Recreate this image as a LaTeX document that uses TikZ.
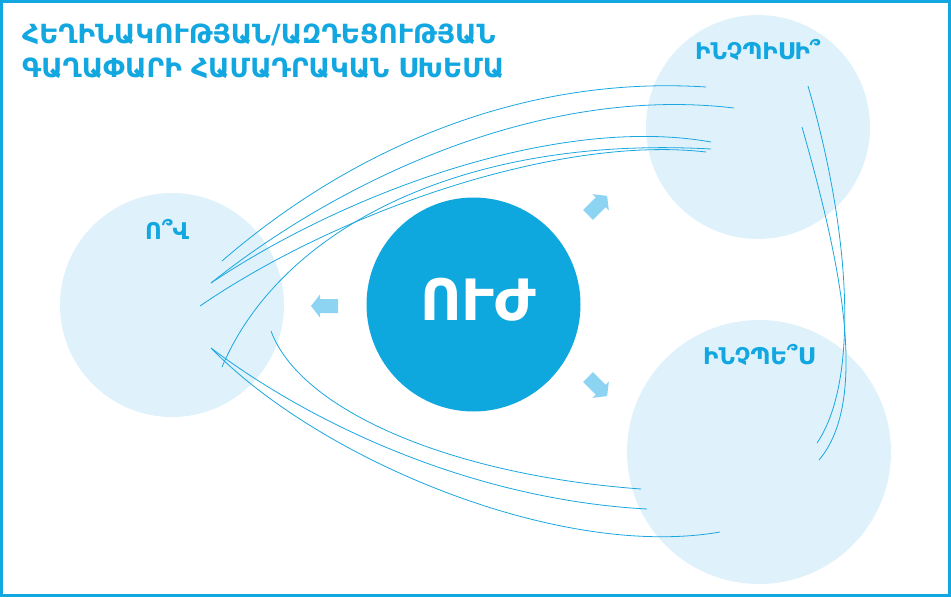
\documentclass[tikz,border=0pt]{standalone}
\usepackage{fontspec}
\setmainfont{DejaVu Sans}
\definecolor{frameblue}{HTML}{12A7E0}
\definecolor{lineblue}{HTML}{1AA6DF}
\definecolor{lightfill}{HTML}{DFF2FB}
\definecolor{corefill}{HTML}{0FA8DE}
\definecolor{arrowfill}{HTML}{8CD4F2}
\tikzset{
  softcircle/.style={circle, fill=lightfill, inner sep=0pt},
  link/.style={draw=lineblue, line width=0.8pt},
  titletext/.style={text=frameblue, anchor=base west, inner sep=0pt, font=\bfseries\fontsize{26.4}{30}\selectfont},
  labeltext/.style={text=frameblue, anchor=base west, inner sep=0pt, font=\bfseries\fontsize{23}{26}\selectfont},
  fatarrow/.pic={\fill[arrowfill] (0,-7) -- (18,-7) -- (18,-11.5) -- (27,0) -- (18,11.5) -- (18,7) -- (0,7) -- cycle;}
}
\begin{document}
\begin{tikzpicture}[x=1pt,y=-1pt]
\useasboundingbox (0,0) rectangle (951,597);
% background circles
\node[softcircle, minimum size=224pt] (who) at (172,305) {};
\node[softcircle, minimum size=224pt] (what) at (758,127) {};
\node[softcircle, minimum size=264pt] (how) at (759,452) {};
% endpoints
\coordinate (a1) at (222,261); \coordinate (a2) at (706,87);
\coordinate (b1) at (211,283); \coordinate (b2) at (734,108);
\coordinate (c2) at (711,142);
\coordinate (d1) at (200,306); \coordinate (d2) at (706,152);
\coordinate (e1) at (222,367); \coordinate (e2) at (711,149);
\coordinate (f1) at (271,331); \coordinate (f2) at (641,489);
\coordinate (g1) at (211,348); \coordinate (g2) at (647,509);
\coordinate (h2) at (720,532);
\coordinate (i1) at (808,86); \coordinate (i2) at (817,443);
\coordinate (j1) at (802,127); \coordinate (j2) at (819,460);
% curves
\draw[link] (a1) .. controls (350,150) and (520,75) .. (a2);
\draw[link] (b1) .. controls (340,180) and (540,85) .. (b2);
\draw[link] (b1) .. controls (350,190) and (560,115) .. (c2);
\draw[link] (d1) .. controls (340,210) and (560,135) .. (d2);
\draw[link] (e1) .. controls (280,230) and (460,135) .. (e2);
\draw[link] (f1) .. controls (300,410) and (450,475) .. (f2);
\draw[link] (g1) .. controls (320,430) and (480,500) .. (g2);
\draw[link] (g1) .. controls (320,460) and (560,560) .. (h2);
\draw[link] (i1) .. controls (850,230) and (860,380) .. (i2);
\draw[link] (j1) .. controls (840,260) and (870,400) .. (j2);
% core
\node[circle, fill=corefill, minimum size=214pt, inner sep=0pt] (core) at (473.5,304.5) {};
\node[text=white, font=\bfseries\fontsize{57}{60}\selectfont, inner sep=0pt, anchor=base] (coretext) at (478,320) {ՈՒԺ};
% arrows
\pic[rotate=180] at (338,306) {fatarrow};
\pic[rotate=45] at (588,215) {fatarrow};
\pic[rotate=-45] at (588,377) {fatarrow};
% labels
\node[labeltext] (whotext) at (145,239) {Ո՞Վ};
\node[labeltext] (whattext) at (695,59) {ԻՆՉՊԻՍԻ՞};
\node[labeltext] (howtext) at (703,364) {ԻՆՉՊԵ՞Ս};
% title
\node[titletext] (title1) at (22,43) {ՀԵՂԻՆԱԿՈՒԹՅԱՆ/ԱԶԴԵՑՈՒԹՅԱՆ};
\node[titletext] (title2) at (22,77) {ԳԱՂԱՓԱՐԻ ՀԱՄԱԴՐԱԿԱՆ ՍԽԵՄԱ};
% frame
\draw[frameblue, line width=3pt] (1.5,1.5) rectangle (949.5,595.5);
\end{tikzpicture}
\end{document}
